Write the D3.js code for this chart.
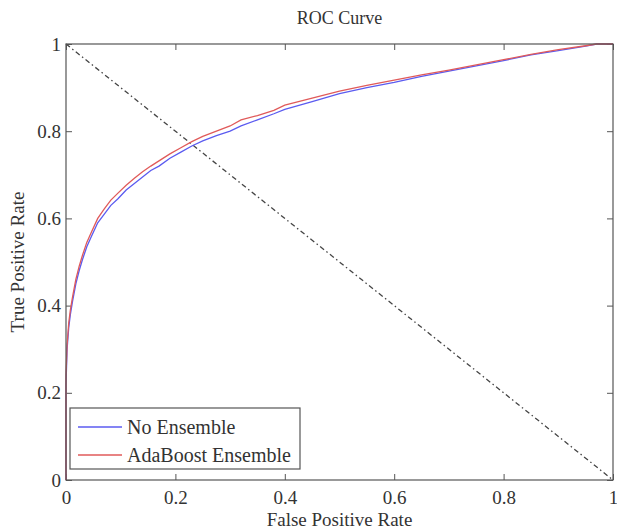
<!DOCTYPE html>
<html>
<head>
<meta charset="utf-8">
<script src="https://cdn.jsdelivr.net/npm/d3@7"></script>
<style>
  body { margin: 0; background: #fff; }
  svg text { font-family: "Liberation Serif", "Times New Roman", serif; fill: #333; }
  .axis path { display: none; }
  .axis line { stroke: #555; }
</style>
</head>
<body>
<div id="chart"></div>
<script>
// svg container
var width = 617;
var height = 529;

// margins (plot box edges)
var margin = { top: 44, right: 4, bottom: 49, left: 66 };
var chartWidth = width - margin.left - margin.right;
var chartHeight = height - margin.top - margin.bottom;

//// Data ////
var fprNoEns = [0, 0, 0.002, 0.005, 0.008, 0.012, 0.018, 0.024, 0.030, 0.038, 0.047, 0.058, 0.070, 0.082, 0.095, 0.110, 0.125, 0.140, 0.155, 0.170, 0.190, 0.210, 0.230, 0.250, 0.275, 0.300, 0.320, 0.350, 0.380, 0.400, 0.450, 0.500, 0.550, 0.600, 0.650, 0.700, 0.750, 0.800, 0.850, 0.900, 0.950, 0.970, 1.0];
var tprNoEns = [0, 0.22, 0.30, 0.35, 0.38, 0.41, 0.45, 0.48, 0.505, 0.535, 0.56, 0.59, 0.61, 0.63, 0.645, 0.665, 0.68, 0.695, 0.71, 0.72, 0.738, 0.752, 0.766, 0.778, 0.79, 0.80, 0.812, 0.826, 0.84, 0.850, 0.868, 0.886, 0.900, 0.912, 0.926, 0.938, 0.950, 0.962, 0.975, 0.985, 0.995, 1.0, 1.0];

var fprAda = [0, 0, 0.002, 0.005, 0.008, 0.012, 0.018, 0.024, 0.030, 0.038, 0.047, 0.058, 0.070, 0.082, 0.095, 0.110, 0.125, 0.140, 0.155, 0.170, 0.190, 0.210, 0.230, 0.250, 0.275, 0.300, 0.320, 0.350, 0.380, 0.400, 0.450, 0.500, 0.550, 0.600, 0.650, 0.700, 0.750, 0.800, 0.850, 0.900, 0.950, 0.970, 1.0];
var tprAda = [0, 0.24, 0.31, 0.36, 0.39, 0.42, 0.46, 0.49, 0.515, 0.545, 0.57, 0.60, 0.622, 0.642, 0.658, 0.676, 0.692, 0.707, 0.72, 0.732, 0.748, 0.762, 0.776, 0.788, 0.80, 0.812, 0.826, 0.836, 0.848, 0.860, 0.876, 0.892, 0.905, 0.917, 0.929, 0.940, 0.952, 0.964, 0.976, 0.987, 0.996, 1.0, 1.0];

var chanceX = [0, 1];
var chanceY = [1, 0];

var ticks = [0, 0.2, 0.4, 0.6, 0.8, 1];
var seriesNames = ["No Ensemble", "AdaBoost Ensemble"];
var seriesColors = ["#5b5bf0", "#e05a5a"];

// create svg container
var svg = d3.select("#chart").append("svg")
    .attr("width", width)
    .attr("height", height);

var chartGroup = svg.append("g")
    .attr("transform", `translate(${margin.left}, ${margin.top})`);

//// Scales ////
var xScale = d3.scaleLinear().domain([0, 1]).range([0, chartWidth]);
var yScale = d3.scaleLinear().domain([0, 1]).range([chartHeight, 0]);
var fmt = d3.format("~g");

//// Axes (inward ticks on all four sides) ////
var xAxisG = chartGroup.append("g")
    .attr("class", "axis")
    .attr("transform", `translate(0, ${chartHeight})`)
    .call(d3.axisBottom(xScale).tickValues(ticks).tickFormat(fmt).tickSize(-6).tickPadding(11));

chartGroup.append("g")
    .attr("class", "axis")
    .call(d3.axisTop(xScale).tickValues(ticks).tickFormat("").tickSize(-6));

var yAxisG = chartGroup.append("g")
    .attr("class", "axis")
    .call(d3.axisLeft(yScale).tickValues(ticks).tickFormat(fmt).tickSize(-6).tickPadding(5));

chartGroup.append("g")
    .attr("class", "axis")
    .attr("transform", `translate(${chartWidth}, 0)`)
    .call(d3.axisRight(yScale).tickValues(ticks).tickFormat("").tickSize(-6));

// serif tick labels, like the MATLAB figure
[xAxisG, yAxisG].forEach(function (g) {
    g.attr("font-family", null).attr("font-size", null);
    g.selectAll("text")
        .style("font-family", "'Liberation Serif', serif")
        .style("font-size", "19px")
        .style("fill", "#333");
});

//// Lines ////
function makeLine(xs, ys) {
    return d3.line()
        .x((d, i) => xScale(xs[i]))
        .y((d, i) => yScale(ys[i]))(xs);
}

// chance diagonal (dash-dot)
chartGroup.append("path")
    .attr("d", makeLine(chanceX, chanceY))
    .attr("fill", "none")
    .attr("stroke", "#444")
    .attr("stroke-width", 1.3)
    .attr("stroke-dasharray", "5,3,1.5,3");

chartGroup.append("path")
    .attr("d", makeLine(fprNoEns, tprNoEns))
    .attr("fill", "none")
    .attr("stroke", seriesColors[0])
    .attr("stroke-width", 1.3);

chartGroup.append("path")
    .attr("d", makeLine(fprAda, tprAda))
    .attr("fill", "none")
    .attr("stroke", seriesColors[1])
    .attr("stroke-width", 1.3);

// plot box
chartGroup.append("rect")
    .attr("width", chartWidth)
    .attr("height", chartHeight)
    .attr("fill", "none")
    .attr("stroke", "#555")
    .attr("stroke-width", 1.2);

//// Legend ////
var legend = chartGroup.append("g")
    .attr("transform", "translate(4, 364)");

legend.append("rect")
    .attr("width", 230)
    .attr("height", 61)
    .attr("fill", "#fff")
    .attr("stroke", "#555")
    .attr("stroke-width", 1.2);

seriesNames.forEach(function (name, i) {
    var y = 19 + i * 28;
    legend.append("line")
        .attr("x1", 8).attr("x2", 52)
        .attr("y1", y).attr("y2", y)
        .attr("stroke", seriesColors[i])
        .attr("stroke-width", 1.3);
    legend.append("text")
        .attr("x", 57)
        .attr("y", y)
        .attr("dy", "0.35em")
        .attr("font-size", "20px")
        .text(name);
});

//// Titles ////
svg.append("text")
    .attr("x", margin.left + chartWidth / 2)
    .attr("y", 24)
    .attr("text-anchor", "middle")
    .attr("font-size", "18px")
    .text("ROC Curve");

svg.append("text")
    .attr("x", margin.left + chartWidth / 2)
    .attr("y", 526)
    .attr("text-anchor", "middle")
    .attr("font-size", "19px")
    .text("False Positive Rate");

svg.append("text")
    .attr("transform", "rotate(-90)")
    .attr("x", -(margin.top + chartHeight / 2))
    .attr("y", 24)
    .attr("text-anchor", "middle")
    .attr("font-size", "19px")
    .text("True Positive Rate");
</script>
</body>
</html>
